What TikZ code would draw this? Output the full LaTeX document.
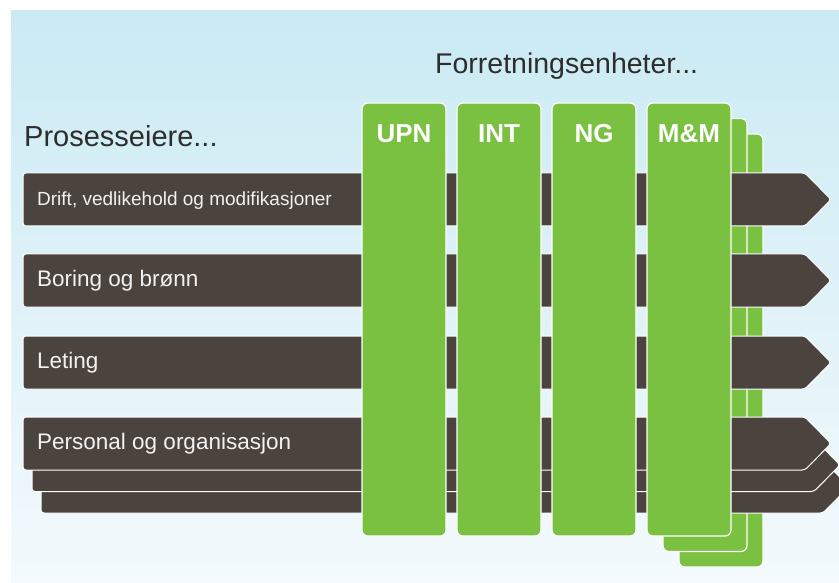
\documentclass[tikz,border=0pt]{standalone}
\usepackage{fontspec}
\setmainfont{Liberation Sans}
\definecolor{barbrown}{RGB}{75,67,62}
\definecolor{unitgreen}{RGB}{122,193,66}
\definecolor{bgblue}{RGB}{202,234,243}
\definecolor{bgpale}{RGB}{244,250,253}
\definecolor{textgray}{RGB}{45,45,45}
\tikzset{
    bar/.style={fill=barbrown,draw=white,line width=1pt,rounded corners=3pt},
    unit/.style={fill=unitgreen,draw=white,line width=1.2pt,rounded corners=6pt},
    rowtext/.style={anchor=base west,inner sep=0,text=white!95!black},
    unittext/.style={anchor=base,inner sep=0,text=white,font=\fontsize{26}{26}\selectfont\bfseries},
    headtext/.style={anchor=base west,inner sep=0,text=textgray},
}
\begin{document}
\begin{tikzpicture}[x=1pt,y=-1pt]
\useasboundingbox (0,0) rectangle (839,583);

%background
\shade[top color=bgblue,middle color=bgblue,bottom color=bgpale] (11,11) rectangle (839,583);

%headings
\node[headtext,font=\fontsize{29}{29}\selectfont] (owners) at (24,147) {Prosesseiere...};
\node[headtext,font=\fontsize{28.5}{28.5}\selectfont] (units) at (435,74) {Forretningsenheter...};

%units behind M&M
\foreach \dx/\dy in {32/31,16/15.5}{
    \draw[unit] (647+\dx,103+\dy) rectangle (731+\dx,536+\dy);
}

%bars behind the last process
\foreach \dx/\dy in {18/43,9/21.5}{
    \draw[bar] (23+\dx,417+\dy) -- (805+\dx,417+\dy) -- (831+\dx,443.5+\dy) -- (805+\dx,470+\dy) -- (23+\dx,470+\dy) -- cycle;
}

%processes
\foreach \y/\n/\t/\s in {173/drift/{Drift, vedlikehold og modifikasjoner}/19,254/boring/{Boring og brønn}/22.5,336/leting/Leting/22.5,417/personal/{Personal og organisasjon}/22.5}{
    \draw[bar] (23,\y) -- (805,\y) -- (831,\y+26.5) -- (805,\y+53) -- (23,\y+53) -- cycle;
    \node[rowtext,font=\fontsize{\s}{\s}\selectfont] (\n) at (37,\y+32.5) {\t};
}

%business units
\foreach \x/\n/\t in {362/upn/UPN,457/int/INT,552/ng/NG,647/mm/M\&M}{
    \draw[unit] (\x,103) rectangle (\x+84,536);
    \node[unittext] (\n) at (\x+42,143) {\t};
}

\end{tikzpicture}
\end{document}
